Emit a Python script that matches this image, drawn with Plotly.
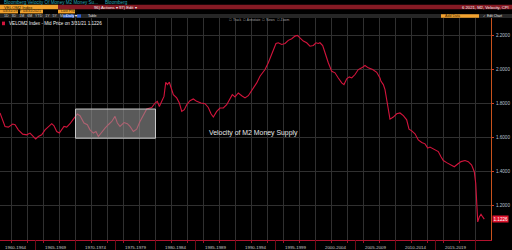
import plotly.graph_objects as go

# ---------------- data ----------------
years = [1960.56, 1961.19, 1961.6, 1962.15, 1962.44, 1962.85, 1963.4, 1963.9, 1964.31, 1964.72,
         1965.02, 1965.35, 1965.77, 1966.19, 1966.6, 1967.03, 1967.31, 1967.65, 1967.98, 1968.28,
         1968.56, 1968.9, 1969.31, 1969.73, 1970.23, 1970.56, 1971.06, 1971.48, 1971.81, 1972.23,
         1972.56, 1972.85, 1973.28, 1973.69, 1974.1, 1974.53, 1974.94, 1975.23, 1975.56, 1976.06,
         1976.48, 1976.81, 1977.23, 1977.65, 1978.06, 1978.48, 1978.9, 1979.53, 1979.94, 1980.23,
         1980.48, 1980.78, 1981.06, 1981.28, 1981.48, 1981.73, 1982.03, 1982.23, 1982.65, 1982.98,
         1983.28, 1983.6, 1983.9, 1984.31, 1984.73, 1985.15, 1985.69, 1986.19, 1986.6, 1986.94,
         1987.23, 1987.65, 1988.06, 1988.48, 1988.9, 1989.31, 1989.6, 1989.94, 1990.35, 1990.78,
         1991.19, 1991.6, 1992.03, 1992.44, 1992.65, 1993.06, 1993.69, 1994.1, 1994.53, 1995.06,
         1995.35, 1995.78, 1996.19, 1996.6, 1997.03, 1997.44, 1997.73, 1998.06, 1998.48, 1998.9,
         1999.31, 1999.73, 2000.06, 2000.35, 2000.56, 2000.9, 2001.19, 2001.6, 2002.03, 2002.44,
         2002.85, 2003.28, 2003.56, 2003.9, 2004.23, 2004.53, 2004.94, 2005.35, 2005.78, 2006.19,
         2006.6, 2007.15, 2007.65, 2008.06, 2008.19, 2008.48, 2008.69, 2008.9, 2009.1, 2009.31,
         2009.73, 2010.15, 2010.56, 2010.98, 2011.4, 2011.69, 2012.03, 2012.44, 2012.85, 2013.28,
         2013.69, 2014.03, 2014.31, 2014.6, 2014.94, 2015.35, 2015.69, 2015.98, 2016.4, 2016.94,
         2017.35, 2017.78, 2018.19, 2018.69, 2019.1, 2019.52, 2019.85, 2020.03, 2020.15, 2020.28,
         2020.48, 2020.69, 2020.9, 2021.1]
velocity = [1.744, 1.665, 1.661, 1.679, 1.675, 1.645, 1.620, 1.616, 1.626, 1.606,
            1.592, 1.606, 1.616, 1.645, 1.661, 1.681, 1.669, 1.635, 1.626, 1.649,
            1.665, 1.661, 1.681, 1.708, 1.738, 1.728, 1.685, 1.675, 1.645, 1.626,
            1.635, 1.606, 1.635, 1.655, 1.675, 1.694, 1.724, 1.685, 1.665, 1.688,
            1.681, 1.665, 1.635, 1.649, 1.694, 1.734, 1.767, 1.776, 1.802, 1.812,
            1.782, 1.812, 1.841, 1.924, 1.910, 1.924, 1.881, 1.851, 1.832, 1.802,
            1.753, 1.763, 1.792, 1.816, 1.826, 1.812, 1.802, 1.798, 1.776, 1.739,
            1.720, 1.753, 1.773, 1.773, 1.792, 1.822, 1.851, 1.838, 1.861, 1.845,
            1.832, 1.845, 1.876, 1.910, 1.920, 1.959, 1.998, 2.038, 2.086, 2.151,
            2.155, 2.145, 2.151, 2.169, 2.179, 2.194, 2.198, 2.185, 2.165, 2.155,
            2.135, 2.139, 2.155, 2.151, 2.155, 2.139, 2.096, 2.038, 1.988, 1.979,
            1.949, 1.920, 1.910, 1.944, 1.955, 1.949, 1.969, 1.998, 2.008, 2.022,
            2.008, 1.998, 1.982, 1.949, 1.929, 1.910, 1.881, 1.822, 1.744, 1.708,
            1.720, 1.739, 1.744, 1.728, 1.704, 1.649, 1.639, 1.622, 1.586, 1.571,
            1.563, 1.538, 1.544, 1.538, 1.528, 1.518, 1.488, 1.465, 1.453, 1.439,
            1.429, 1.445, 1.459, 1.465, 1.459, 1.439, 1.400, 1.332, 1.234, 1.106,
            1.135, 1.151, 1.135, 1.1226]

period_labels = ["1960-1964", "1965-1969", "1970-1974", "1975-1979", "1980-1984", "1985-1989",
                 "1990-1994", "1995-1999", "2000-2004", "2005-2009", "2010-2014", "2015-2019"]
period_centers = [1962.5, 1967.5, 1972.5, 1977.5, 1982.5, 1987.5,
                  1992.5, 1997.5, 2002.5, 2007.5, 2012.5, 2017.5]
period_bounds = [1965, 1970, 1975, 1980, 1985, 1990, 1995, 2000, 2005, 2010, 2015, 2020]
y_ticks = [1.2, 1.4, 1.6, 1.8, 2.0, 2.2]
last_value = 1.1226
highlight_x = [1970.0, 1980.0]
highlight_y = [1.596, 1.767]

# ---------------- geometry helpers ----------------
W, H = 512, 250
L, R, T, B = 0, 21, 18, 10
PW, PH = W - L - R, H - T - B


def px(x):
    return (x - L) / PW


def py(y):
    return (H - B - y) / PH


FONT = "Liberation Sans, Arial, sans-serif"
ORANGE = "#f2a22e"
DARKRED = "#861a24"
TEAL = "#2aa3b3"
LINE = "#d3143c"

fig = go.Figure()
fig.add_trace(go.Scatter(x=years, y=velocity, mode="lines",
                         line=dict(color=LINE, width=1.1), hoverinfo="skip",
                         showlegend=False))

shapes = []


def rect(x0, y0, x1, y1, color, line=None):
    shapes.append(dict(type="rect", xref="paper", yref="paper",
                       x0=px(x0), x1=px(x1), y0=py(y0), y1=py(y1),
                       fillcolor=color, line=dict(width=0) if line is None else line,
                       layer="above"))


# header bars
rect(0, 4.7, 58, 9.3, ORANGE)
rect(58, 4.7, 512, 9.3, DARKRED)
rect(0, 9.6, 18, 13.4, ORANGE)
rect(20, 9.6, 43, 13.4, ORANGE)
rect(58, 9.6, 75, 13.4, ORANGE)
rect(0, 14, 512, 18, "#262626")
rect(63, 14.4, 74, 17.6, "#2c5fd6")
rect(77, 14.4, 81, 17.6, "#2c5fd6")
rect(441, 14.2, 479, 17.8, ORANGE)
rect(2, 21.6, 5, 25.2, LINE)

# highlight box
shapes.append(dict(type="rect", xref="x", yref="y",
                   x0=highlight_x[0], x1=highlight_x[1],
                   y0=highlight_y[0], y1=highlight_y[1],
                   fillcolor="rgba(150,150,150,0.6)",
                   line=dict(color="#c8c8c8", width=1), layer="above"))

# period separators below the x axis
for b in period_bounds:
    shapes.append(dict(type="line", xref="x", yref="paper", x0=b, x1=b,
                       y0=0, y1=py(250), line=dict(color="#6e0c18", width=1)))

annotations = []


def text(x, y, s, color, size, anchor="left"):
    annotations.append(dict(xref="paper", yref="paper", x=px(x), y=py(y), text=s,
                            showarrow=False, xanchor=anchor, yanchor="middle",
                            font=dict(family=FONT, size=size, color=color)))


text(2, 2.4, "Bloomberg Velocity Of Money M2 Money Su...", TEAL, 4.6)
text(103, 2.4, "Bloomberg", TEAL, 4.6)
text(2, 7.0, "VELOM2 Index", "#2a1a00", 4.2)
text(92, 7.0, "96) Actions \u25be", "#f0f0f0", 4.2)
text(117, 7.0, "97) Edit \u25be", "#f0f0f0", 4.2)
text(511, 7.0, "6 2021, M2, Velocity, CPI", "#f0f0f0", 4.2, anchor="right")
text(1, 11.5, "03/31/1959", "#2a1a00", 3.6)
text(18, 11.5, "-", "#e0e0e0", 3.6)
text(21, 11.5, "03/31/2021", "#2a1a00", 3.6)
text(59, 11.5, "Last Price", "#2a1a00", 3.6)
text(2, 16.0, "1D   3D   1M   6M   YTD   1Y   5Y   Max", "#d0d0d0", 3.6)
text(64, 16.0, "Daily \u25be", "#ffffff", 3.6)
text(86, 16.0, "Table", "#e0e0e0", 3.6)
text(443, 16.0, "Add Data", "#3a2400", 3.6)
text(481, 16.0, "\u2713 Edit Chart", "#e0e0e0", 3.4)
text(227, 20.3, "\u2610 Track  \u2610 Annotate  \u2610 News  \u2610 Zoom", "#a0a0a0", 3.4)
text(7, 23.4, "VELOM2 Index - Mid Price on 3/31/21 1.1226", "#f0f0f0", 4.6)

# chart annotation
annotations.append(dict(xref="x", yref="y", x=1986.4, y=1.628,
                        text="Velocity of M2 Money Supply", showarrow=False,
                        xanchor="left", yanchor="middle",
                        font=dict(family=FONT, size=6.9, color="#e8e8e8")))
# last value tag
annotations.append(dict(xref="paper", yref="y", x=px(492), y=last_value,
                        text=f"{last_value:.4f}", showarrow=False,
                        xanchor="left", yanchor="middle", bgcolor="#e0142e",
                        borderpad=0.5,
                        font=dict(family=FONT, size=4.6, color="#ffffff")))

fig.update_layout(
    width=W, height=H,
    margin=dict(l=L, r=R, t=T, b=B, pad=0),
    paper_bgcolor="#000000", plot_bgcolor="#000000",
    showlegend=False,
    shapes=shapes, annotations=annotations,
    xaxis=dict(range=[1960.56, 2021.94], tickmode="array",
               tickvals=period_centers, ticktext=period_labels,
               ticks="", showgrid=False, zeroline=False,
               showline=True, linecolor="#b3122e", linewidth=1,
               ticklabelstandoff=3,
               tickfont=dict(family=FONT, size=4.4, color="#c8c8c8"),
               minor=dict(tickmode="linear", tick0=1960, dtick=2,
                          showgrid=True, gridcolor="#303030", gridwidth=1,
                          ticks="outside", ticklen=2, tickcolor="#a0102a")),
    yaxis=dict(range=[1.0, 2.3], side="right", tickmode="array",
               tickvals=y_ticks, tickformat=".4f",
               showgrid=True, gridcolor="#303030", gridwidth=1, zeroline=False,
               showline=True, linecolor="#c8521c", linewidth=1,
               ticks="outside", ticklen=2, tickcolor="#d0402a",
               ticklabelstandoff=1,
               tickfont=dict(family=FONT, size=4.6, color="#b8c2d4")),
)

fig.write_html("out.html", config={"displayModeBar": False})
